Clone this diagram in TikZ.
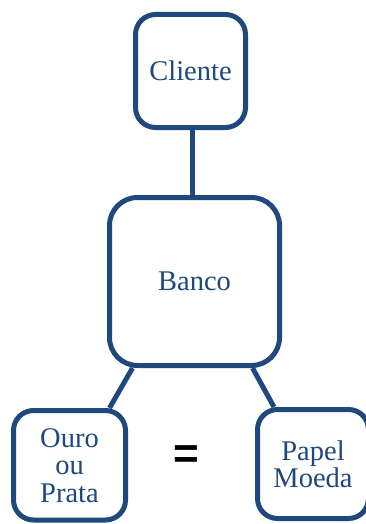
\documentclass[tikz,border=0pt]{standalone}
\usepackage{fontspec}
\setmainfont{Liberation Serif}
\newfontfamily\eqfont{Liberation Sans}
\usetikzlibrary{calc}
\definecolor{boxblue}{RGB}{31,73,125}
\tikzset{
  box/.style={draw=boxblue, line width=5pt, rounded corners=20pt, fill=white,
    text=boxblue, align=center, inner sep=0pt,
    font=\fontsize{28.5pt}{27.5pt}\selectfont},
  link/.style={draw=boxblue, line width=5pt}
}
\begin{document}
\begin{tikzpicture}[x=1pt,y=-1pt]
\useasboundingbox (0,0) rectangle (366,524);
\node[box, minimum width=110pt, minimum height=113pt] (cliente) at (190.5,71) {Cliente};
\node[box, rounded corners=28pt, minimum width=170pt, minimum height=168pt] (banco) at (194.5,281.5) {Banco};
\node[box, minimum width=112pt, minimum height=109.5pt] (ouro) at (69.5,465.25) {Ouro\\ou\\Prata};
\node[box, minimum width=111pt, minimum height=109pt] (papel) at (313,464) {Papel\\Moeda};
\node[font=\eqfont\bfseries\fontsize{44pt}{44pt}\selectfont, inner sep=0pt] (eq) at (186,457) {=};
\draw[link] ([xshift=2pt]cliente.south) -- ([xshift=2pt]cliente.south |- banco.north);
\draw[link] ([xshift=25.5pt]banco.south west) -- ([xshift=-18.5pt]ouro.north east);
\draw[link] ([xshift=-29.5pt]banco.south east) -- ([xshift=19pt]papel.north west);
\end{tikzpicture}
\end{document}
